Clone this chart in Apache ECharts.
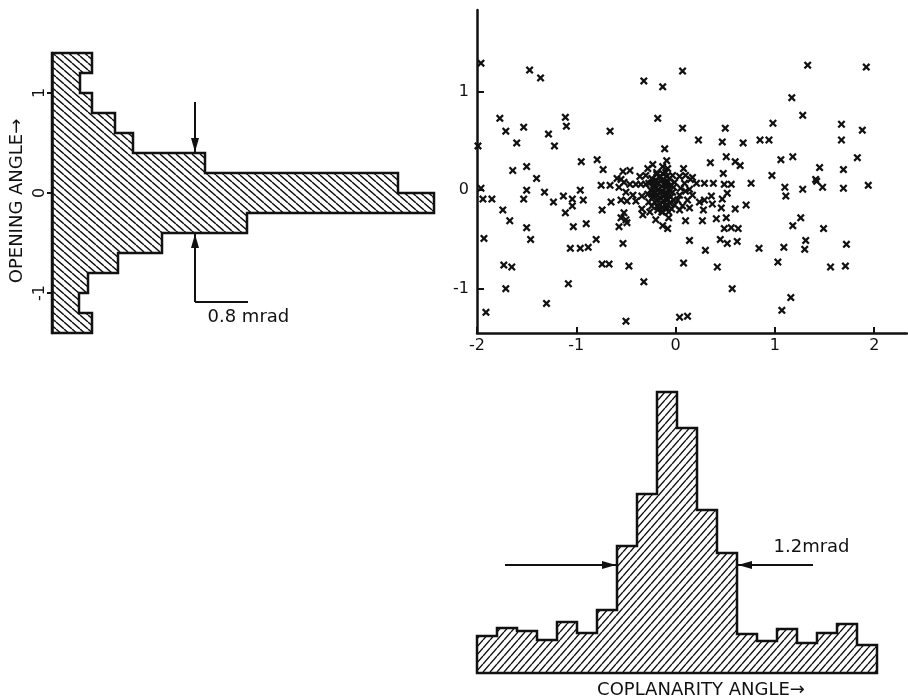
<!DOCTYPE html>
<html>
<head>
<meta charset="utf-8">
<script src="https://cdn.jsdelivr.net/npm/echarts@6/dist/echarts.min.js"></script>
<style>
html, body { margin: 0; padding: 0; background: #fff; }
#chart { width: 908px; height: 698px; }
</style>
</head>
<body>
<div id="chart"></div>
<script>
// opening angle histogram (left panel), bins from +1.4 down to -1.4 mrad
const openEdges = [1.4, 1.2, 1.0, 0.8, 0.6, 0.4, 0.2, 0, -0.2, -0.4, -0.6, -0.8, -1.0, -1.2, -1.4];
const openCounts = [4.0, 2.8, 4.0, 6.3, 8.1, 15.3, 34.6, 38.2, 19.5, 11.0, 6.6, 3.6, 2.7, 4.0];
const openTicks = [-1, 0, 1];

// coplanarity angle histogram (bottom panel), bins -2 .. 2 mrad
const copEdges = [-2, -1.8, -1.6, -1.4, -1.2, -1.0, -0.8, -0.6, -0.4, -0.2, 0, 0.2, 0.4, 0.6, 0.8, 1.0, 1.2, 1.4, 1.6, 1.8, 2];
const copCounts = [3.7, 4.5, 4.2, 3.3, 5.1, 4.0, 6.3, 12.7, 17.9, 28.1, 24.5, 16.3, 12.0, 3.9, 3.2, 4.4, 3.0, 4.0, 4.9, 2.8];

// scatter: [coplanarity, opening]
const scatterXTicks = [-2, -1, 0, 1, 2];
const scatterYTicks = [-1, 0, 1];
const points = [
  [-1.96, 1.29], [-1.47, 1.22], [-1.36, 1.14], [-0.32, 1.11], [-0.13, 1.05],
  [-1.77, 0.73], [-1.11, 0.74], [-1.10, 0.65], [-1.71, 0.60], [-1.53, 0.64],
  [-1.28, 0.57], [-0.18, 0.73], [-0.66, 0.60], [-1.99, 0.45], [-1.60, 0.48],
  [-1.22, 0.45], [-0.11, 0.42], [-0.09, 0.30], [-0.95, 0.29], [-0.79, 0.31],
  [-0.73, 0.21], [-1.64, 0.20], [-1.50, 0.24], [-1.40, 0.12], [-0.53, 0.19],
  [-0.46, 0.20], [-0.28, 0.22], [-0.23, 0.26], [-0.36, 0.14], [-0.30, 0.15],
  [-0.19, 0.18], [-0.13, 0.24], [-0.08, 0.22], [-0.13, 0.17], [-0.59, 0.12],
  [-0.55, 0.11],
  [0.07, 1.21], [1.33, 1.27], [1.92, 1.25], [1.17, 0.94], [1.28, 0.76],
  [0.07, 0.63], [0.50, 0.63], [0.98, 0.68], [1.67, 0.67], [1.88, 0.61],
  [0.23, 0.51], [0.47, 0.49], [0.68, 0.48], [0.85, 0.51], [0.94, 0.51],
  [1.67, 0.51], [0.51, 0.34], [0.60, 0.29], [0.65, 0.25], [0.35, 0.28],
  [1.06, 0.31], [1.18, 0.34], [1.45, 0.23], [1.69, 0.21], [1.83, 0.33],
  [0.08, 0.22], [0.04, 0.14], [0.10, 0.15], [0.17, 0.13], [0.48, 0.17],
  [0.97, 0.15], [1.41, 0.11],
  [-1.96, 0.02], [-1.94, -0.09], [-1.85, -0.09], [-1.50, 0.00], [-1.53, -0.09],
  [-1.32, -0.02], [-1.23, -0.12], [-1.13, -0.06], [-1.04, -0.09], [-0.96, 0.00],
  [-0.93, -0.10], [-1.04, -0.16], [-1.11, -0.23], [-0.75, 0.05], [-0.66, 0.05],
  [-0.57, 0.03], [-0.52, 0.08], [-0.46, 0.06], [-0.40, 0.06], [-0.35, 0.06],
  [-0.30, 0.06], [-0.50, -0.02], [-0.65, -0.12], [-0.55, -0.10], [-0.49, -0.11],
  [-0.40, -0.11], [-0.43, -0.05], [-0.34, -0.06], [-0.74, -0.20], [-1.74, -0.20],
  [-1.67, -0.31], [-1.50, -0.38], [-1.03, -0.37], [-0.90, -0.34], [-1.93, -0.49],
  [-1.46, -0.50], [-1.06, -0.59], [-0.96, -0.59], [-0.88, -0.58], [-0.80, -0.50],
  [-0.53, -0.54], [-0.52, -0.23], [-0.55, -0.28], [-0.50, -0.30], [-0.57, -0.37],
  [-0.49, -0.33], [-1.73, -0.76], [-1.65, -0.78], [-0.74, -0.75], [-0.67, -0.75],
  [-0.47, -0.77], [-1.71, -1.00], [-1.08, -0.95], [-0.32, -0.93], [-1.30, -1.15],
  [-1.91, -1.24], [-0.50, -1.33], [-0.20, -0.30], [-0.13, -0.36], [-0.08, -0.39],
  [-0.07, -0.28], [-0.13, -0.22], [-0.18, -0.20], [-0.26, -0.22], [-0.33, -0.25],
  [-0.34, -0.19],
  [0.76, 0.07], [1.10, 0.03], [1.11, -0.06], [1.28, 0.01], [1.42, 0.09],
  [1.48, 0.03], [1.69, 0.02], [1.94, 0.05], [0.71, -0.15], [0.60, -0.19],
  [0.46, -0.18], [0.47, -0.09], [0.52, -0.03], [0.56, 0.06], [0.49, 0.06],
  [0.38, 0.07], [0.29, 0.07], [0.36, -0.06], [0.29, -0.10], [0.37, -0.14],
  [0.24, -0.12], [0.28, -0.20], [0.21, 0.07], [1.26, -0.28], [1.18, -0.36],
  [1.49, -0.39], [0.41, -0.29], [0.51, -0.28], [0.27, -0.31], [0.10, -0.31],
  [0.49, -0.39], [0.56, -0.38], [0.63, -0.39], [0.14, -0.51], [0.45, -0.50],
  [0.52, -0.54], [0.62, -0.52], [0.30, -0.61], [0.84, -0.59], [1.09, -0.58],
  [1.31, -0.51], [1.30, -0.60], [1.72, -0.55], [0.08, -0.74], [0.42, -0.78],
  [1.03, -0.73], [1.56, -0.78], [1.71, -0.77], [0.57, -1.00], [1.16, -1.09],
  [1.07, -1.22], [0.04, -1.29], [0.12, -1.28],
  [0.15, 0.11], [0.09, 0.07], [0.05, 0.02], [0.10, -0.01], [0.14, 0.01],
  [0.17, -0.05], [0.04, -0.05], [0.02, -0.10], [0.12, -0.10], [0.07, -0.16],
  [0.04, -0.20], [0.14, -0.18],
  [-0.09, 0.14], [-0.09, 0.06], [-0.09, -0.03], [-0.09, -0.10], [-0.09, -0.18],
  [-0.27, 0.07],
  [-0.24, 0.12], [-0.20, 0.10], [-0.16, 0.13], [-0.12, 0.11], [-0.06, 0.12],
  [-0.22, 0.05], [-0.18, 0.07], [-0.14, 0.04], [-0.11, 0.07], [-0.05, 0.05],
  [-0.25, 0.00], [-0.21, -0.02], [-0.17, 0.01], [-0.13, -0.01], [-0.07, 0.01],
  [-0.03, -0.02], [-0.23, -0.07], [-0.19, -0.05], [-0.15, -0.08], [-0.11, -0.05],
  [-0.05, -0.07], [-0.21, -0.12], [-0.16, -0.14], [-0.12, -0.11], [-0.06, -0.13],
  [-0.02, -0.10], [-0.18, -0.17], [-0.10, -0.16], [-0.04, -0.19], [-0.14, -0.22],
  [-0.01, 0.08], [-0.28, -0.04], [-0.27, -0.12], [-0.01, -0.15], [-0.19, 0.16],
  [-0.10, 0.18], [-0.03, 0.15],
  [-0.22, 0.09], [-0.15, 0.09], [-0.08, 0.09], [-0.20, 0.02], [-0.10, 0.03],
  [-0.24, -0.04], [-0.16, -0.03], [-0.08, -0.04], [-0.18, -0.09], [-0.09, -0.08],
  [-0.24, -0.16], [-0.13, -0.18], [-0.07, -0.22], [-0.02, 0.03]
];

const INK = '#111';
const FONT = 'DejaVu Sans';
const crossPath = 'path://M0,2L2,0L5,3L8,0L10,2L7,5L10,8L8,10L5,7L2,10L0,8L3,5Z';
const arrowHead = 'path://M5,0L10,20L0,20Z';

// small tile with diagonal hatch lines, used as a repeating fill
function hatch(back, w, h) {
  const c = document.createElement('canvas');
  c.width = w; c.height = h;
  const ctx = c.getContext('2d');
  ctx.strokeStyle = INK;
  ctx.lineWidth = 1.4;
  ctx.beginPath();
  for (const k of [-1, 0, 1]) {
    if (back) { ctx.moveTo(k * w, 0); ctx.lineTo(k * w + w, h); }
    else { ctx.moveTo(k * w, h); ctx.lineTo(k * w + w, 0); }
  }
  ctx.stroke();
  return { image: c, repeat: 'repeat' };
}

// outline of a histogram as one polygon
const openPoly = [[0, openEdges[0]]];
openCounts.forEach((c, i) => { openPoly.push([c, openEdges[i]], [c, openEdges[i + 1]]); });
openPoly.push([0, openEdges[openEdges.length - 1]]);

const copPoly = [[copEdges[0], 0]];
copCounts.forEach((c, i) => { copPoly.push([copEdges[i], c], [copEdges[i + 1], c]); });
copPoly.push([copEdges[copEdges.length - 1], 0]);

function polyRender(poly, fill) {
  return function (params, api) {
    if (params.dataIndex !== 0) return null;
    return {
      type: 'polygon',
      shape: { points: poly.map(p => api.coord(p)) },
      style: { fill: fill, stroke: INK, lineWidth: 2.5 }
    };
  };
}

const txt = { color: INK, fontFamily: FONT, fontSize: 16 };

function arrow(from, to) {
  return [
    { coord: from },
    { coord: to, symbol: arrowHead, symbolSize: [8, 14], symbolOffset: [0, 7] }
  ];
}

const chart = echarts.init(document.getElementById('chart'));
chart.setOption({
  animation: false,
  backgroundColor: '#fff',
  textStyle: { fontFamily: FONT },
  grid: [
    { left: 52, top: 53, width: 400, height: 280, outerBoundsMode: 'none' },
    { left: 477, top: 10, width: 430, height: 323, outerBoundsMode: 'none' },
    { left: 477, top: 373, width: 400, height: 300, outerBoundsMode: 'none' }
  ],
  xAxis: [
    { gridIndex: 0, type: 'value', min: 0, max: 40, show: false },
    {
      gridIndex: 1, type: 'value', min: -2, max: 2.33,
      axisLine: { onZero: false, lineStyle: { color: INK, width: 2.5 } },
      axisTick: { inside: true, length: 6, customValues: scatterXTicks, lineStyle: { color: INK, width: 2 } },
      axisLabel: Object.assign({ customValues: scatterXTicks, margin: 5 }, txt),
      splitLine: { show: false }
    },
    {
      gridIndex: 2, type: 'value', min: -2, max: 2,
      axisLine: { show: false }, axisTick: { show: false }, axisLabel: { show: false },
      splitLine: { show: false },
      name: 'COPLANARITY ANGLE→', nameLocation: 'middle', nameGap: 8,
      nameTextStyle: { color: INK, fontFamily: FONT, fontSize: 18, padding: [0, 0, 0, 48] }
    }
  ],
  yAxis: [
    {
      gridIndex: 0, type: 'value', min: -1.4, max: 1.4,
      axisLine: { onZero: false, lineStyle: { color: INK, width: 2.5 } },
      axisTick: { show: true, inside: false, length: 5, customValues: openTicks, lineStyle: { color: INK, width: 2 } },
      axisLabel: Object.assign({ customValues: openTicks, rotate: 90, margin: 4 }, txt),
      splitLine: { show: false },
      name: 'OPENING ANGLE→', nameLocation: 'middle', nameRotate: 90, nameGap: 26,
      nameTextStyle: { color: INK, fontFamily: FONT, fontSize: 18, padding: [0, 16, 0, 0] }
    },
    {
      gridIndex: 1, type: 'value', min: -1.45, max: 1.83,
      axisLine: { onZero: false, lineStyle: { color: INK, width: 2.5 } },
      axisTick: { inside: true, length: 7, customValues: scatterYTicks, lineStyle: { color: INK, width: 2 } },
      axisLabel: Object.assign({ customValues: scatterYTicks, margin: 8 }, txt),
      splitLine: { show: false }
    },
    { gridIndex: 2, type: 'value', min: 0, max: 30, show: false }
  ],
  series: [
    {
      type: 'custom', xAxisIndex: 0, yAxisIndex: 0, silent: true,
      data: openCounts.map((c, i) => [c, openEdges[i]]),
      renderItem: polyRender(openPoly, hatch(true, 8, 7))
    },
    {
      type: 'custom', xAxisIndex: 2, yAxisIndex: 2, silent: true,
      data: copCounts.map((c, i) => [copEdges[i], c]),
      renderItem: polyRender(copPoly, hatch(false, 7, 8))
    },
    {
      type: 'scatter', xAxisIndex: 1, yAxisIndex: 1, silent: true,
      symbol: crossPath, symbolSize: 8,
      itemStyle: { color: INK, opacity: 1 },
      data: points
    },
    {
      // width marker on the opening-angle histogram
      type: 'line', xAxisIndex: 0, yAxisIndex: 0, data: [],
      markLine: {
        silent: true, animation: false, symbol: ['none', 'none'],
        label: { show: false },
        lineStyle: { color: INK, width: 2, type: 'solid' },
        data: [
          arrow([14.3, 0.91], [14.3, 0.41]),
          arrow([14.3, -1.09], [14.3, -0.41]),
          [{ coord: [14.3, -1.09] }, { coord: [19.6, -1.09] }]
        ]
      },
      markPoint: {
        silent: true, symbol: 'circle', symbolSize: 1,
        itemStyle: { color: 'rgba(0,0,0,0)' },
        label: Object.assign({ show: true, position: 'right', distance: 0, formatter: '0.8 mrad' }, txt, { fontSize: 18 }),
        data: [{ coord: [15.5, -1.24] }]
      }
    },
    {
      // width marker on the coplanarity histogram
      type: 'line', xAxisIndex: 2, yAxisIndex: 2, data: [],
      markLine: {
        silent: true, animation: false, symbol: ['none', 'none'],
        label: { show: false },
        lineStyle: { color: INK, width: 2, type: 'solid' },
        data: [
          arrow([-1.72, 10.8], [-0.61, 10.8]),
          arrow([1.36, 10.8], [0.61, 10.8])
        ]
      },
      markPoint: {
        silent: true, symbol: 'circle', symbolSize: 1,
        itemStyle: { color: 'rgba(0,0,0,0)' },
        label: Object.assign({ show: true, position: 'right', distance: 0, formatter: '1.2mrad' }, txt, { fontSize: 18 }),
        data: [{ coord: [0.96, 12.6] }]
      }
    }
  ]
});
</script>
</body>
</html>
